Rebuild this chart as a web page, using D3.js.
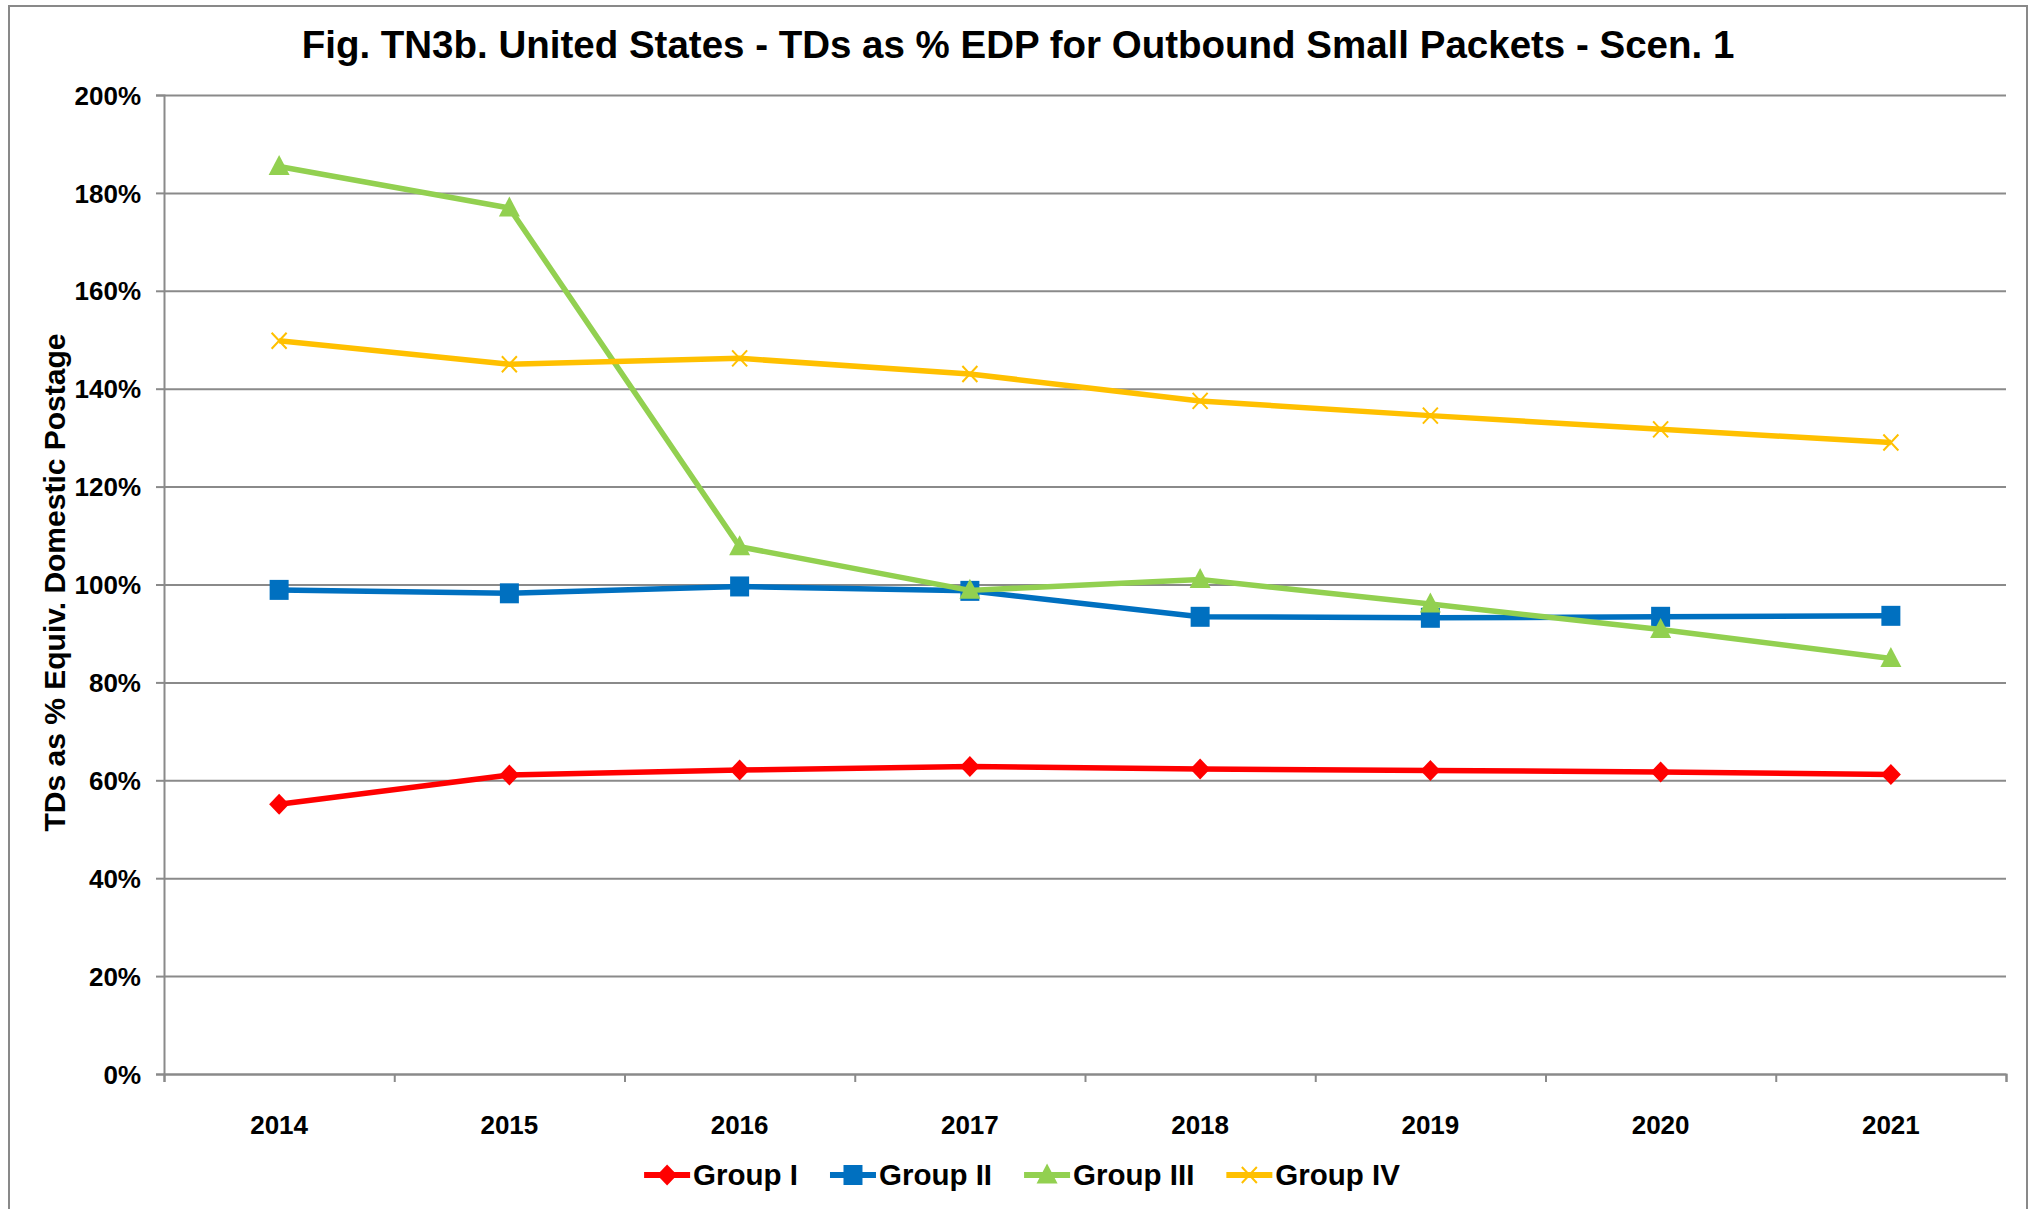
<!DOCTYPE html>
<html>
<head>
<meta charset="utf-8">
<script src="https://cdn.jsdelivr.net/npm/d3@7"></script>
<style>
  html, body { margin: 0; padding: 0; background: #ffffff; }
  svg { display: block; }
  text { font-family: "Liberation Sans", Arial, sans-serif; font-weight: bold; fill: #000; }
</style>
</head>
<body>
<svg id="chart" width="2038" height="1209"></svg>
<script>
// Years on the category axis
const years = ["2014", "2015", "2016", "2017", "2018", "2019", "2020", "2021"];

// Terminal dues as % of equivalent domestic postage, per country group
const groupI   = [55.1, 61.1, 62.1, 62.8, 62.3, 62.0, 61.7, 61.2];
const groupII  = [98.9, 98.2, 99.6, 98.7, 93.4, 93.2, 93.4, 93.6];
const groupIII = [185.4, 176.9, 107.7, 98.8, 101.0, 96.0, 90.8, 84.9];
const groupIV  = [149.8, 145.0, 146.2, 143.0, 137.5, 134.5, 131.7, 129.0];

const seriesNames = ["Group I", "Group II", "Group III", "Group IV"];
const yTicks = [0, 20, 40, 60, 80, 100, 120, 140, 160, 180, 200];

const titleText = "Fig. TN3b. United States - TDs as % EDP for Outbound Small Packets - Scen. 1";
const yTitleText = "TDs as % Equiv. Domestic Postage";

const series = [
  { name: seriesNames[0], values: groupI,   color: "#FF0000", marker: "diamond" },
  { name: seriesNames[1], values: groupII,  color: "#0070C0", marker: "square" },
  { name: seriesNames[2], values: groupIII, color: "#92D050", marker: "triangle" },
  { name: seriesNames[3], values: groupIV,  color: "#FFC000", marker: "cross" }
];

const plot = { left: 164, right: 2006, top: 95, bottom: 1074 };
const gridColor = "#8a8a8a";

const svg = d3.select("#chart");

// Outer chart frame (its bottom edge runs past the visible area)
svg.append("rect")
  .attr("x", 9).attr("y", 6)
  .attr("width", 2018).attr("height", 1230)
  .attr("fill", "none").attr("stroke", "#898989").attr("stroke-width", 2);

const x = d3.scaleBand().domain(years).range([plot.left, plot.right]).paddingInner(0).paddingOuter(0);
const y = d3.scaleLinear().domain([0, 200]).range([plot.bottom, plot.top]);
const cx = d => x(d) + x.bandwidth() / 2;

// Horizontal gridlines
const grid = svg.append("g")
  .attr("transform", `translate(${plot.left},0)`)
  .call(d3.axisLeft(y).tickValues(yTicks).tickSize(-(plot.right - plot.left)).tickFormat(""));
grid.select(".domain").remove();
grid.selectAll(".tick line").attr("stroke", gridColor).attr("stroke-width", 2);

// Y axis with percentage labels
const yAxis = svg.append("g")
  .attr("transform", `translate(${plot.left},0)`)
  .call(d3.axisLeft(y).tickValues(yTicks).tickSize(8).tickPadding(15).tickFormat(d => d + "%"));
yAxis.select(".domain").attr("stroke", gridColor).attr("stroke-width", 2);
yAxis.selectAll(".tick line").attr("stroke", gridColor).attr("stroke-width", 2);
yAxis.selectAll(".tick text").attr("font-size", 26).attr("font-family", null).attr("dy", "0.35em");

// X axis: tick marks sit on category boundaries, labels at category centres
const boundaries = d3.scaleLinear().domain([0, years.length]).range([plot.left, plot.right]);
const xTicks = svg.append("g")
  .attr("transform", `translate(0,${plot.bottom})`)
  .call(d3.axisBottom(boundaries).tickValues(d3.range(years.length + 1)).tickSize(8).tickFormat(""));
xTicks.select(".domain").attr("stroke", gridColor).attr("stroke-width", 2);
xTicks.selectAll(".tick line").attr("stroke", gridColor).attr("stroke-width", 2);

const xLabels = svg.append("g")
  .attr("transform", `translate(0,${plot.bottom})`)
  .call(d3.axisBottom(x).tickSize(0).tickPadding(51));
xLabels.select(".domain").remove();
xLabels.selectAll(".tick text").attr("font-size", 26).attr("font-family", null).attr("dy", "0.35em");

// Marker shapes
function markerPath(kind) {
  switch (kind) {
    case "diamond":  return "M0,-10.5L10,0L0,10.5L-10,0Z";
    case "square":   return "M-9.5,-10L9.5,-10L9.5,10L-9.5,10Z";
    case "triangle": return "M0,-11.5L10.5,8.5L-10.5,8.5Z";
    case "cross":    return "M-7.5,-8L7.5,8M-7.5,8L7.5,-8";
  }
}
function drawMarker(g, kind, color) {
  const p = g.append("path").attr("d", markerPath(kind));
  if (kind === "cross") {
    p.attr("fill", "none").attr("stroke", color).attr("stroke-width", 2);
  } else {
    p.attr("fill", color);
  }
  return p;
}

// Series lines and markers, later groups drawn on top
const line = d3.line().x((d, i) => cx(years[i])).y(d => y(d));
series.forEach(s => {
  const g = svg.append("g").attr("class", "series");
  g.append("path")
    .attr("d", line(s.values))
    .attr("fill", "none")
    .attr("stroke", s.color)
    .attr("stroke-width", 5.5)
    .attr("stroke-linejoin", "round");
  s.values.forEach((v, i) => {
    const m = g.append("g").attr("transform", `translate(${cx(years[i])},${y(v)})`);
    drawMarker(m, s.marker, s.color);
  });
});

// Chart title
svg.append("text")
  .attr("x", 1018).attr("y", 58)
  .attr("text-anchor", "middle")
  .attr("font-size", 38.5)
  .text(titleText);

// Y axis title
svg.append("text")
  .attr("transform", `translate(65,${(plot.top + plot.bottom) / 2 - 2}) rotate(-90)`)
  .attr("text-anchor", "middle")
  .attr("font-size", 30)
  .text(yTitleText);

// Legend, centred under the plot
const legend = svg.append("g");
const legendY = 1175;
const lineLen = 46, textGap = 3, itemGap = 32;
const items = series.map(s => {
  const g = legend.append("g");
  g.append("line").attr("x1", 0).attr("x2", lineLen).attr("y1", 0).attr("y2", 0)
    .attr("stroke", s.color).attr("stroke-width", 6);
  const mg = g.append("g").attr("transform", `translate(${lineLen / 2},0)`);
  drawMarker(mg, s.marker, s.color);
  const t = g.append("text").attr("x", lineLen + textGap).attr("y", 0).attr("dy", "0.35em")
    .attr("font-size", 29.5).text(s.name);
  return { g, w: lineLen + textGap + t.node().getComputedTextLength() };
});
const total = d3.sum(items, d => d.w) + itemGap * (items.length - 1);
let lx = 1022 - total / 2;
items.forEach(it => {
  it.g.attr("transform", `translate(${lx},${legendY})`);
  lx += it.w + itemGap;
});
</script>
</body>
</html>
